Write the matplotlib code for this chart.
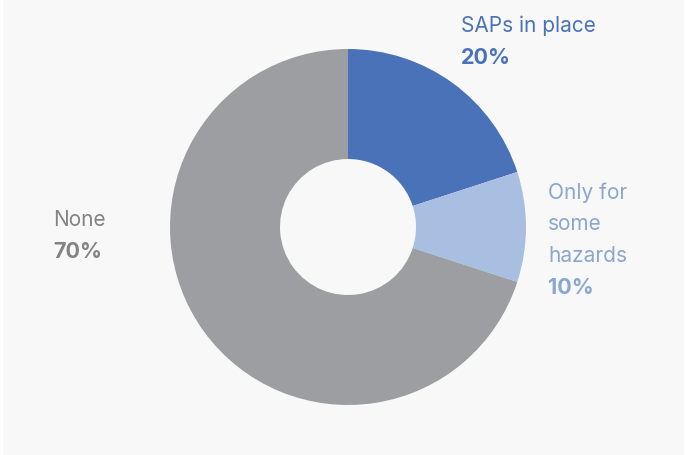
import matplotlib
matplotlib.use("Agg")
from matplotlib import pyplot as plt
from matplotlib.patches import Rectangle

# data
labels = ["SAPs in place", "Only for\nsome\nhazards", "None"]
shares = [20, 10, 70]
colors = ["#4a72b8", "#a9bfe2", "#9c9ea2"]
text_colors = ["#4a72b8", "#8ba7cf", "#838383"]

W, H = 687, 456
plt.rcParams['font.family'] = ['Inter', 'DejaVu Sans']

fig = plt.figure(figsize=(W / 100, H / 100), dpi=100)
fig.patch.set_facecolor("white")
ax = fig.add_axes([0, 0, 1, 1])

# panel background
ax.add_patch(Rectangle((3, 0), W - 6, H, facecolor="#f8f8f8", edgecolor="none", zorder=0))

cx, cy = 348, H - 228
r_out, r_in = 178, 68
ax.pie(shares, colors=colors, startangle=90, counterclock=False,
       center=(cx, cy), radius=r_out, frame=True,
       wedgeprops=dict(width=r_out - r_in, edgecolor="none"))
ax.set_xlim(0, W)
ax.set_ylim(0, H)
ax.set_aspect("equal")
ax.axis("off")

# labels: left x and centre y of the first line, lines 32px apart
label_pos = [(461, 26), (548, 193), (53, 220)]
step = 31.5
for lab, pct, col, (x, y) in zip(labels, shares, text_colors, label_pos):
    lines = lab.split("\n")
    for i, ln in enumerate(lines):
        ax.text(x, H - (y + i * step), ln, color=col, fontsize=15,
                ha="left", va="center")
    ax.text(x, H - (y + len(lines) * step), f"{pct}%", color=col, fontsize=15.5,
            fontweight="bold", ha="left", va="center")

fig.savefig("out.png", dpi=100, facecolor=fig.get_facecolor())
